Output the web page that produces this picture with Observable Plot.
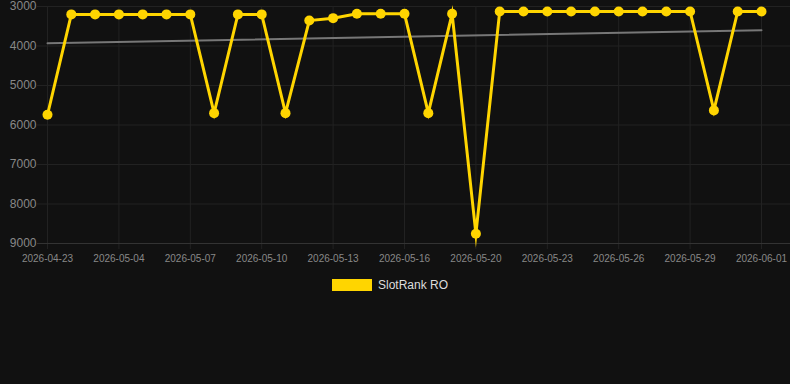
<!DOCTYPE html>
<html><head><meta charset="utf-8">
<script src="https://cdn.jsdelivr.net/npm/d3@7"></script>
<script src="https://cdn.jsdelivr.net/npm/@observablehq/plot@0.6"></script>
<style>
html,body{margin:0;padding:0;background:#111;}
body{width:790px;height:384px;overflow:hidden;font-family:"Liberation Sans",Arial,sans-serif;}
#legend{display:flex;align-items:center;padding-left:332px;padding-top:9px;height:12px;}
#legend .sw{width:40px;height:12px;background:#FFD500;margin-right:6px;}
#legend .lb{color:#ddd;font-size:12px;line-height:12px;}
</style></head><body>
<div id="chart"></div>
<div id="legend"><div class="sw"></div><div class="lb" id="lbl"></div></div>
<script>
const dates = ["2026-04-23","2026-05-02","2026-05-03","2026-05-04","2026-05-05","2026-05-06","2026-05-07","2026-05-08","2026-05-09","2026-05-10","2026-05-11","2026-05-12","2026-05-13","2026-05-14","2026-05-15","2026-05-16","2026-05-17","2026-05-18","2026-05-20","2026-05-21","2026-05-22","2026-05-23","2026-05-24","2026-05-25","2026-05-26","2026-05-27","2026-05-28","2026-05-29","2026-05-30","2026-05-31","2026-06-01"];
const ranks = [5740,3200,3200,3200,3200,3200,3200,5700,3200,3200,5700,3355,3295,3185,3185,3185,5700,3185,8755,3125,3125,3125,3125,3125,3125,3125,3125,3125,5630,3125,3125];
const trendDates = ["2026-04-23","2026-06-01"];
const trendValues = [3930,3600];
const yTicks = [3000,4000,5000,6000,7000,8000,9000];
const xTickLabels = ["2026-04-23","2026-05-04","2026-05-07","2026-05-10","2026-05-13","2026-05-16","2026-05-20","2026-05-23","2026-05-26","2026-05-29","2026-06-01"];
const seriesName = "SlotRank RO";

const idx = d => dates.indexOf(d);
const data = dates.map((d,i)=>({i, rank:ranks[i]}));
const trend = trendDates.map((d,k)=>({i:idx(d), rank:trendValues[k]}));
const xTicks = xTickLabels.map(idx);
const yellow = "#FFD500";

const chart = Plot.plot({
  width:790, height:270, marginTop:6, marginBottom:27, marginLeft:47, marginRight:29,
  style:{background:"#111", color:"#888", fontFamily:"'Liberation Sans',Arial,sans-serif", fontSize:"12px"},
  x:{type:"linear", domain:[0, dates.length-1], label:null},
  y:{domain:[3000,9000], reverse:true, label:null},
  marks:[
    Plot.ruleY(yTicks.slice(0,-1), {stroke:"#222", insetLeft:-10, insetRight:-29}),
    Plot.ruleX(xTicks, {stroke:"#222", insetBottom:-6}),
    Plot.ruleY([9000], {stroke:"#333", insetLeft:-10, insetRight:-29}),
    Plot.axisY(yTicks, {tickSize:0, tickPadding:11, fontSize:12, fill:"#888", label:null, tickFormat:d=>String(d)}),
    Plot.axisX(xTicks, {tickSize:0, tickPadding:11, fontSize:10, fill:"#888", label:null, tickFormat:i=>dates[i]}),
    Plot.line(trend, {x:"i", y:"rank", stroke:"#777", strokeWidth:2}),
    Plot.line(data, {x:"i", y:"rank", stroke:yellow, strokeWidth:3, strokeLinejoin:"miter", strokeMiterlimit:10}),
    Plot.dot(data, {x:"i", y:"rank", r:5, fill:yellow})
  ]
});
document.getElementById("chart").appendChild(chart);
document.getElementById("lbl").textContent = seriesName;
</script>
</body></html>
